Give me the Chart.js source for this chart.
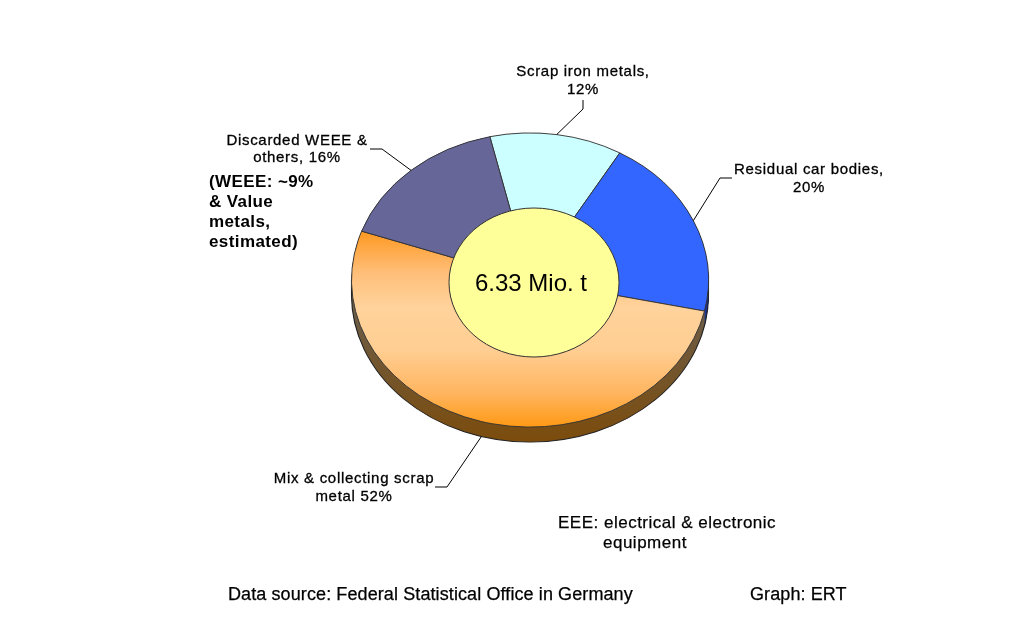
<!DOCTYPE html>
<html>
  <head>
    <title>Scrap metal sources</title>
    <script src="https://cdn.jsdelivr.net/npm/chart.js"></script>
    <style>
      body { margin: 0; background: #fff; }
      #wrap { position: relative; width: 1036px; height: 624px; font-family: "Liberation Sans", Arial, sans-serif; color: #000; }
      #pie { position: absolute; left: 0; top: 0; }
      .note { position: absolute; font-size: 17px; letter-spacing: 0.5px; line-height: 20px; white-space: nowrap; -webkit-text-stroke: 0.25px #000; }
    </style>
  </head>
  <body>
    <div id="wrap">
      <canvas id="pie" width="1036" height="624"></canvas>
      <div class="note" style="left:209px; top:172px; font-weight:bold; letter-spacing:0.4px; -webkit-text-stroke:0;">(WEEE: ~9%<br>&amp; Value<br>metals,<br>estimated)</div>
      <div class="note" style="left:558px; top:513px;">EEE: electrical &amp; electronic<br><span style="padding-left:45px">equipment</span></div>
      <div class="note" style="left:228px; top:584px; font-size:18px; letter-spacing:0.1px;">Data source: Federal Statistical Office in Germany</div>
      <div class="note" style="left:750px; top:584px; font-size:18px; letter-spacing:0.1px;">Graph: ERT</div>
    </div>

    <script>
      // data, clockwise from the top
      const categories = ["Scrap iron metals", "Residual car bodies", "Mix & collecting scrap metal", "Discarded WEEE & others"];
      const shares = [12, 20, 52, 16];
      const labelLines = [
        ["Scrap iron metals,", "{v}%"],
        ["Residual car bodies,", "{v}%"],
        ["Mix & collecting scrap", "metal {v}%"],
        ["Discarded WEEE &", "others, {v}%"]
      ];
      const sliceColors = ["#CCFFFF", "#3366FF", "#FFA030", "#666699"];
      const sideColors = ["#6A6A6A", "#1E3590", "#7A4C12", "#45456A"];
      const totalLabel = "6.33 Mio. t";

      // look of the tilted pie
      const SQUASH = 0.824;
      const DEPTH = 15;

      // label text position (centre x, baselines) and leader elbow / end
      const labelLayout = [
        { x: 583, y: [76, 94], elbow: [583, 109], end: [583, 100] },
        { x: 809, y: [174, 192], elbow: [720, 178], end: [732, 178] },
        { x: 354, y: [483, 501], elbow: [447, 487], end: [435, 487] },
        { x: 297, y: [145, 162], elbow: [382, 149], end: [370, 149] }
      ];

      // screen y -> y in squashed drawing space
      const toUser = (chart, s) => {
        const cy = (chart.chartArea.top + chart.chartArea.bottom) / 2;
        return cy + (s - cy) / SQUASH;
      };

      function mixGradient(chart) {
        const g = chart.ctx.createLinearGradient(0, toUser(chart, 233), 0, toUser(chart, 428));
        g.addColorStop(0, "#FF9A24");
        g.addColorStop(0.2, "#FFBE78");
        g.addColorStop(0.38, "#FFD39C");
        g.addColorStop(0.6, "#FFCE92");
        g.addColorStop(0.82, "#FFB560");
        g.addColorStop(1, "#FF9812");
        return g;
      }

      function sideFill(chart, i) {
        if (i !== 2) return sideColors[i];
        const g = chart.ctx.createLinearGradient(0, toUser(chart, 300), 0, toUser(chart, 443));
        g.addColorStop(0, "#6A5E4C");
        g.addColorStop(1, "#7C4C0C");
        return g;
      }

      const tiltPlugin = {
        id: "tilt",
        beforeDatasetsDraw(chart) {
          const ctx = chart.ctx;
          const arcs = chart.getDatasetMeta(0).data;
          const p0 = arcs[0].getProps(["x", "y", "outerRadius"]);
          ctx.save();
          ctx.translate(0, p0.y);
          ctx.scale(1, SQUASH);
          ctx.translate(0, -p0.y);

          const d = DEPTH / SQUASH;
          for (let k = d; k > 0; k -= 0.5) {
            arcs.forEach((a, i) => {
              const p = a.getProps(["x", "y", "startAngle", "endAngle", "outerRadius"]);
              ctx.beginPath();
              ctx.moveTo(p.x, p.y + k);
              ctx.arc(p.x, p.y + k, p.outerRadius, p.startAngle, p.endAngle);
              ctx.closePath();
              ctx.fillStyle = sideFill(chart, i);
              ctx.fill();
            });
          }
          ctx.beginPath();
          ctx.moveTo(p0.x + p0.outerRadius, p0.y);
          ctx.lineTo(p0.x + p0.outerRadius, p0.y + d);
          ctx.arc(p0.x, p0.y + d, p0.outerRadius, 0, Math.PI);
          ctx.lineTo(p0.x - p0.outerRadius, p0.y);
          ctx.strokeStyle = "#222";
          ctx.lineWidth = 1.1;
          ctx.stroke();
        },
        afterDatasetsDraw(chart) {
          const ctx = chart.ctx;
          ctx.restore();
          const arcs = chart.getDatasetMeta(0).data;
          const c = arcs[0].getProps(["x", "y"]);

          // hole
          ctx.beginPath();
          ctx.ellipse(c.x + 4, c.y + 2.5, 85, 74.5, 0, 0, Math.PI * 2);
          ctx.fillStyle = "#FFFF99";
          ctx.fill();
          ctx.strokeStyle = "#333";
          ctx.lineWidth = 1;
          ctx.stroke();

          ctx.fillStyle = "#000";
          ctx.font = '24px "Liberation Sans", Arial, sans-serif';
          ctx.textAlign = "center";
          ctx.textBaseline = "alphabetic";
          ctx.letterSpacing = "0px";
          ctx.fillText(totalLabel, c.x + 1, c.y + 11);

          // leaders and slice labels
          ctx.font = '15px "Liberation Sans", Arial, sans-serif';
          ctx.letterSpacing = "0.7px";
          arcs.forEach((a, i) => {
            const p = a.getProps(["x", "y", "startAngle", "endAngle", "outerRadius"]);
            const mid = (p.startAngle + p.endAngle) / 2;
            const sx = p.x + Math.cos(mid) * p.outerRadius;
            let sy = p.y + Math.sin(mid) * p.outerRadius * SQUASH;
            if (Math.sin(mid) > 0.9) sy += DEPTH;
            const L = labelLayout[i];
            ctx.beginPath();
            ctx.moveTo(sx, sy);
            ctx.lineTo(L.elbow[0], L.elbow[1]);
            ctx.lineTo(L.end[0], L.end[1]);
            ctx.strokeStyle = "#000";
            ctx.lineWidth = 1;
            ctx.stroke();
            labelLines[i].forEach((t, j) => {
              const txt = t.replace("{v}", shares[i]);
              ctx.fillText(txt, L.x, L.y[j]);
              ctx.lineWidth = 0.3;
              ctx.strokeText(txt, L.x, L.y[j]);
            });
          });
        }
      };

      new Chart(document.getElementById("pie"), {
        type: "doughnut",
        data: {
          labels: categories,
          datasets: [{
            data: shares,
            backgroundColor: (c) => {
              const i = c.dataIndex;
              if (i === 2 && c.chart.chartArea) return mixGradient(c.chart);
              return sliceColors[i] ?? sliceColors[0];
            },
            borderColor: "#333",
            borderWidth: 1
          }]
        },
        options: {
          responsive: false,
          animation: false,
          events: [],
          cutout: "44%",
          rotation: -13,
          layout: { padding: { left: 351, top: 101, right: 327, bottom: 165 } },
          plugins: { legend: { display: false }, tooltip: { enabled: false } }
        },
        plugins: [tiltPlugin]
      });
    </script>
  </body>
</html>
